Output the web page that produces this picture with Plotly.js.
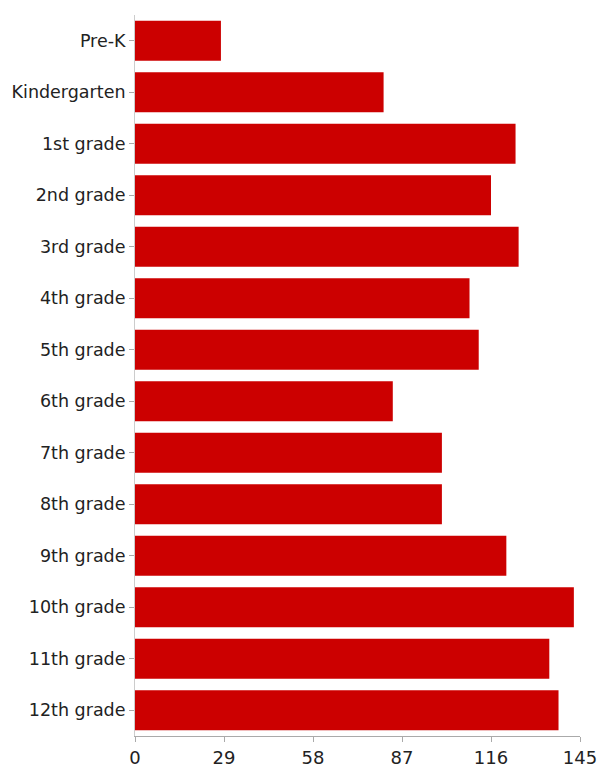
<!DOCTYPE html>
<html>
<head>
<meta charset="utf-8">
<script src="https://cdn.plot.ly/plotly-3.0.1.min.js"></script>
<style>html,body{margin:0;padding:0;background:#fff;}#chart{width:599px;height:772px;}</style>
</head>
<body>
<div id="chart"></div>
<script>
var grades = ["Pre-K","Kindergarten","1st grade","2nd grade","3rd grade","4th grade","5th grade","6th grade","7th grade","8th grade","9th grade","10th grade","11th grade","12th grade"];
var counts = [28, 81, 124, 116, 125, 109, 112, 84, 100, 100, 121, 143, 135, 138];
var tickValues = [0, 29, 58, 87, 116, 145];

Plotly.newPlot('chart', [{
  type: 'bar',
  orientation: 'h',
  y: grades,
  x: counts,
  marker: {color: '#cc0000'},
  hoverinfo: 'x+y'
}], {
  width: 599, height: 772,
  margin: {l: 135, r: 19, t: 15, b: 36},
  paper_bgcolor: '#fff', plot_bgcolor: '#fff',
  bargap: 0.22,
  font: {family: 'DejaVu Sans, Liberation Sans, sans-serif', size: 17, color: '#222'},
  showlegend: false,
  xaxis: {
    range: [0, 145], tickvals: tickValues, ticktext: tickValues.map(String),
    showgrid: false, zeroline: false, showline: true, linecolor: '#aaa', linewidth: 1,
    ticks: 'outside', ticklen: 5, tickcolor: '#aaa', tickfont: {size: 18}
  },
  yaxis: {
    autorange: 'reversed', showgrid: false, zeroline: false, showline: true, linecolor: '#ccc',
    ticks: 'outside', ticklen: 5, tickcolor: '#aaa', tickfont: {size: 17.5}
  }
}, {displayModeBar: false, staticPlot: true});
</script>
</body>
</html>
